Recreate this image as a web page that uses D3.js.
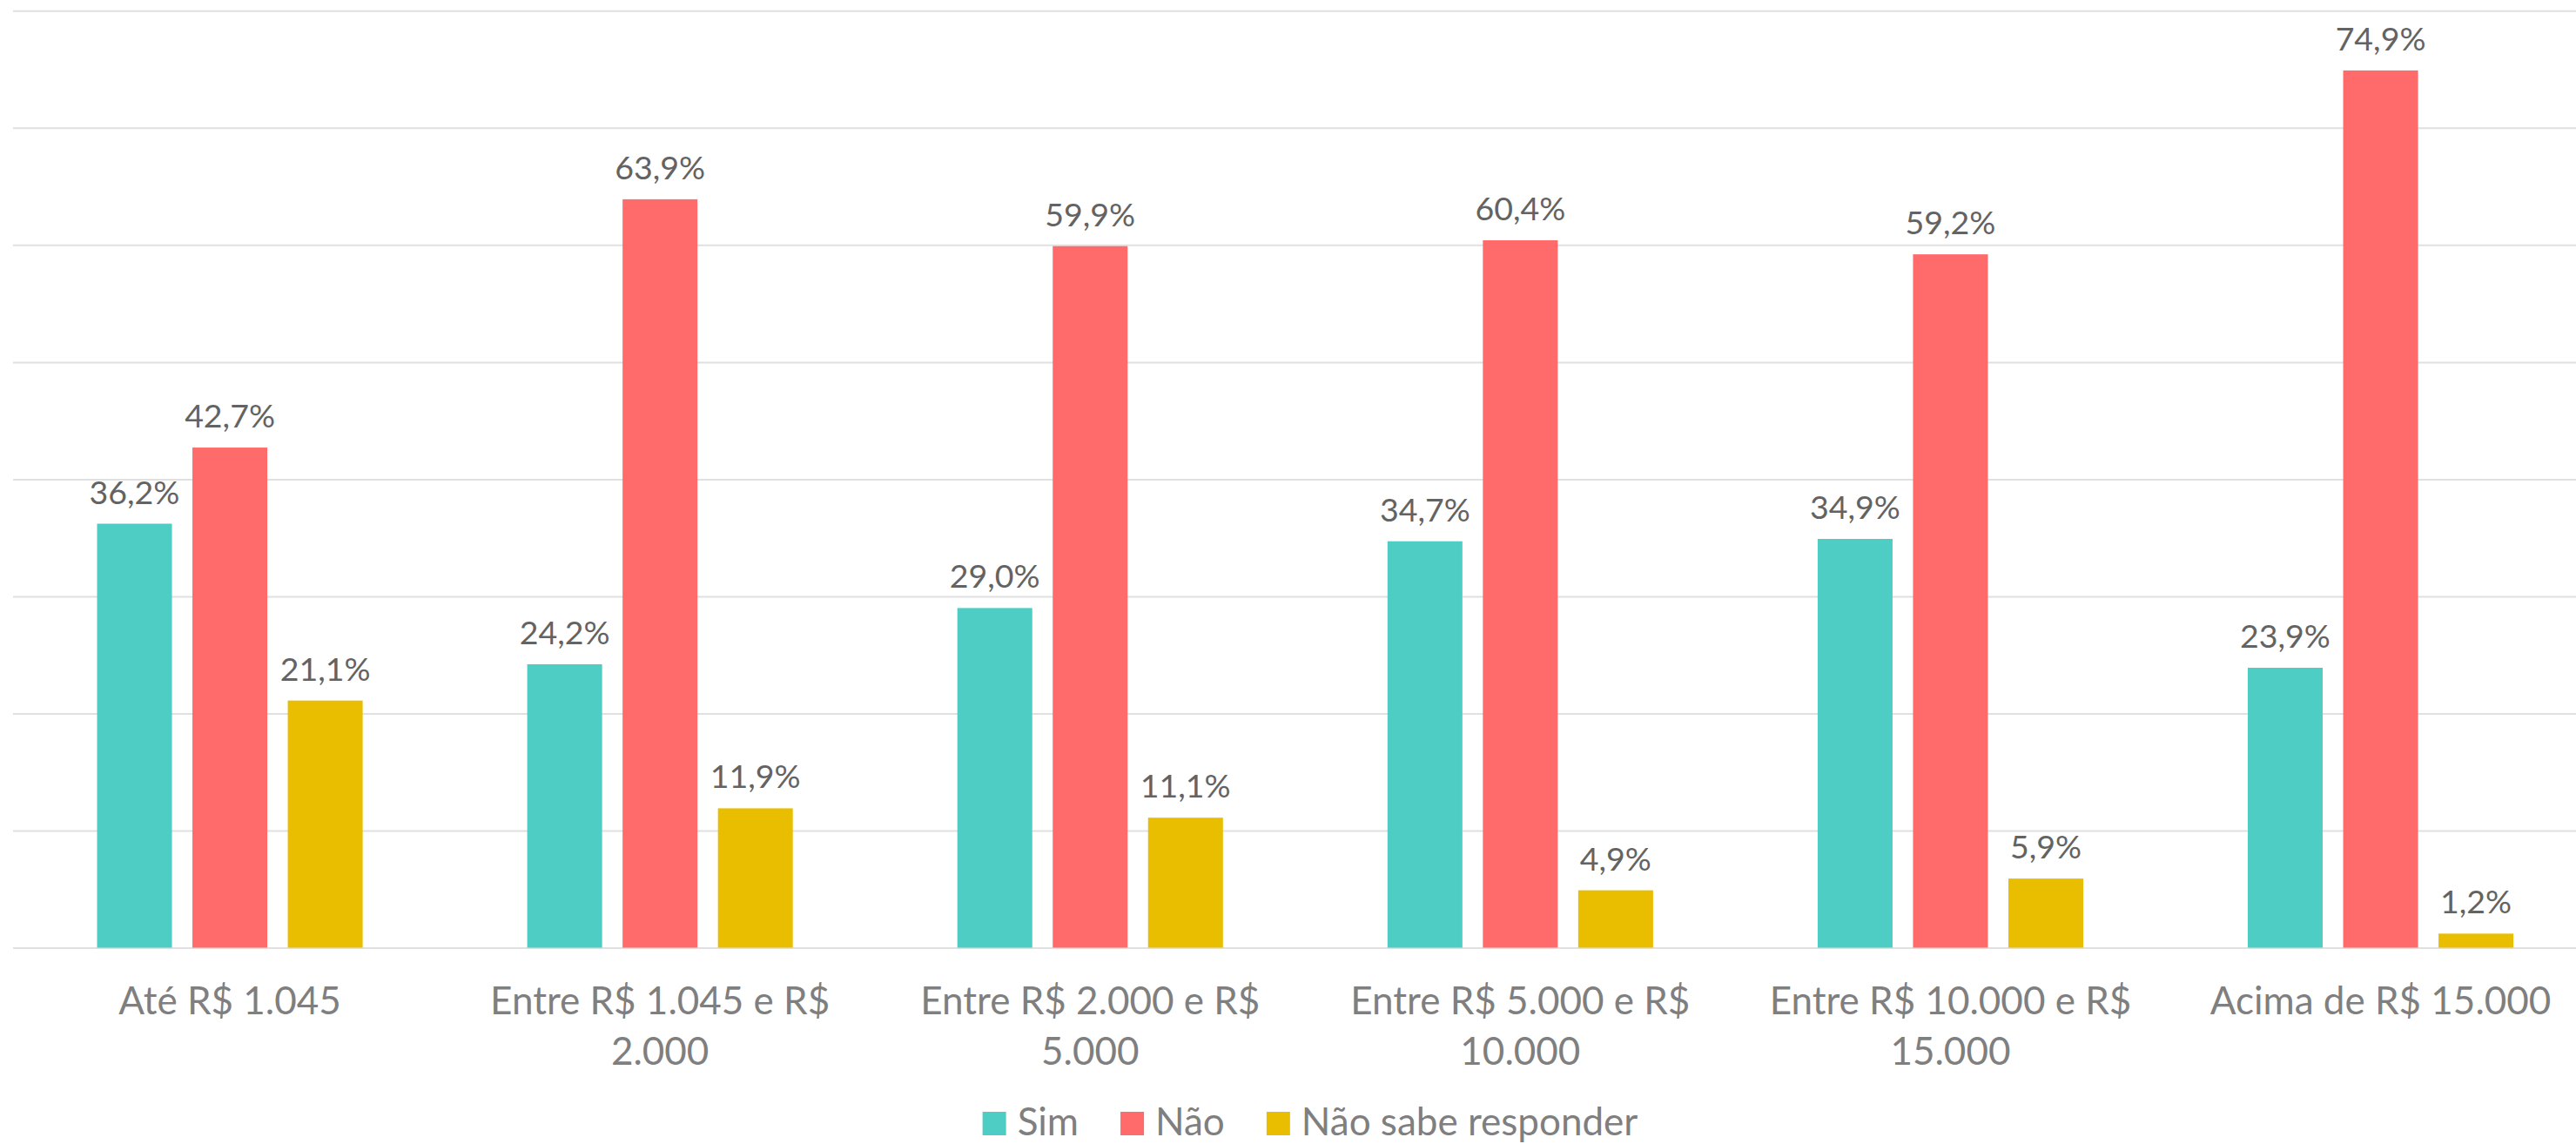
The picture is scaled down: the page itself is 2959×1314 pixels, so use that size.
<!DOCTYPE html>
<html>
<head>
<meta charset="utf-8">
<script src="https://cdn.jsdelivr.net/npm/d3@7"></script>
<style>
  html, body { margin: 0; padding: 0; background: #ffffff; }
  svg { display: block; }
  text { font-family: Lato, "Open Sans", sans-serif; }
</style>
</head>
<body>
<svg id="chart" width="2959" height="1314"></svg>
<script>
// ---- data ----
const categories = [
  ["Até R$ 1.045"],
  ["Entre R$ 1.045 e R$", "2.000"],
  ["Entre R$ 2.000 e R$", "5.000"],
  ["Entre R$ 5.000 e R$", "10.000"],
  ["Entre R$ 10.000 e R$", "15.000"],
  ["Acima de R$ 15.000"]
];
const seriesNames = ["Sim", "Não", "Não sabe responder"];
const sim = [36.2, 24.2, 29.0, 34.7, 34.9, 23.9];
const nao = [42.7, 63.9, 59.9, 60.4, 59.2, 74.9];
const naoSabe = [21.1, 11.9, 11.1, 4.9, 5.9, 1.2];
const yTicks = [0, 10, 20, 30, 40, 50, 60, 70, 80];
const colors = ["#4ECDC4", "#FF6B6B", "#EABE00"];

const seriesValues = [sim, nao, naoSabe];
const catKeys = categories.map((c, i) => "c" + i);

// ---- layout ----
const svg = d3.select("#chart");
const W = 2959;

const x0 = d3.scaleBand().domain(catKeys).range([17, 2981.6]).paddingInner(0).paddingOuter(0);
const x1 = d3.scaleBand().domain(seriesNames).range([94.5, 399.6]).paddingInner(0.2146).paddingOuter(0);
const y = d3.scaleLinear().domain([0, 80]).range([1088.5, 12.3]);

// gridlines
const yAxis = d3.axisLeft(y).tickValues(yTicks).tickSize(-(W - 15)).tickFormat("");
const gAxis = svg.append("g").attr("transform", "translate(15,0)").call(yAxis);
gAxis.select(".domain").remove();
gAxis.selectAll(".tick line").attr("stroke", "#e0e0e0").attr("stroke-width", 2);

// bars
const groups = svg.append("g").selectAll("g")
  .data(catKeys)
  .join("g")
  .attr("transform", d => `translate(${x0(d)},0)`);

groups.each(function(key, ci) {
  const g = d3.select(this);
  const rows = seriesNames.map((s, si) => ({ s, si, v: seriesValues[si][ci] }));
  g.selectAll("rect")
    .data(rows)
    .join("rect")
    .attr("x", d => x1(d.s))
    .attr("width", x1.bandwidth())
    .attr("y", d => y(d.v))
    .attr("height", d => y(0) - y(d.v))
    .attr("fill", d => colors[d.si]);
  g.selectAll("text.val")
    .data(rows)
    .join("text")
    .attr("class", "val")
    .attr("x", d => x1(d.s) + x1.bandwidth() / 2)
    .attr("y", d => y(d.v) - 23)
    .attr("text-anchor", "middle")
    .attr("font-size", 37.5)
    .attr("fill", "#636363")
    .text(d => d.v.toFixed(1).replace(".", ",") + "%");
});

// category labels
const catG = svg.append("g");
categories.forEach((lines, ci) => {
  const cx = x0(catKeys[ci]) + x0.bandwidth() / 2;
  const t = catG.append("text")
    .attr("text-anchor", "middle")
    .attr("font-size", 44)
    .attr("fill", "#7f7f7f");
  lines.forEach((ln, li) => {
    t.append("tspan").attr("x", cx).attr("y", 1165 + li * 58.3).text(ln);
  });
});

// legend
const legG = svg.append("g");
const items = seriesNames.map((name, i) => {
  const g = legG.append("g");
  g.append("rect").attr("x", 0).attr("y", 1277).attr("width", 27).attr("height", 27).attr("fill", colors[i]);
  const t = g.append("text").attr("x", 40).attr("y", 1304).attr("font-size", 44).attr("fill", "#7f7f7f").text(name);
  return { g, w: 40 + t.node().getComputedTextLength() };
});
const gap = 48;
const total = d3.sum(items, d => d.w) + gap * (items.length - 1);
let lx = 1505 - total / 2;
items.forEach(it => {
  it.g.attr("transform", `translate(${lx},0)`);
  lx += it.w + gap;
});
</script>
</body>
</html>
